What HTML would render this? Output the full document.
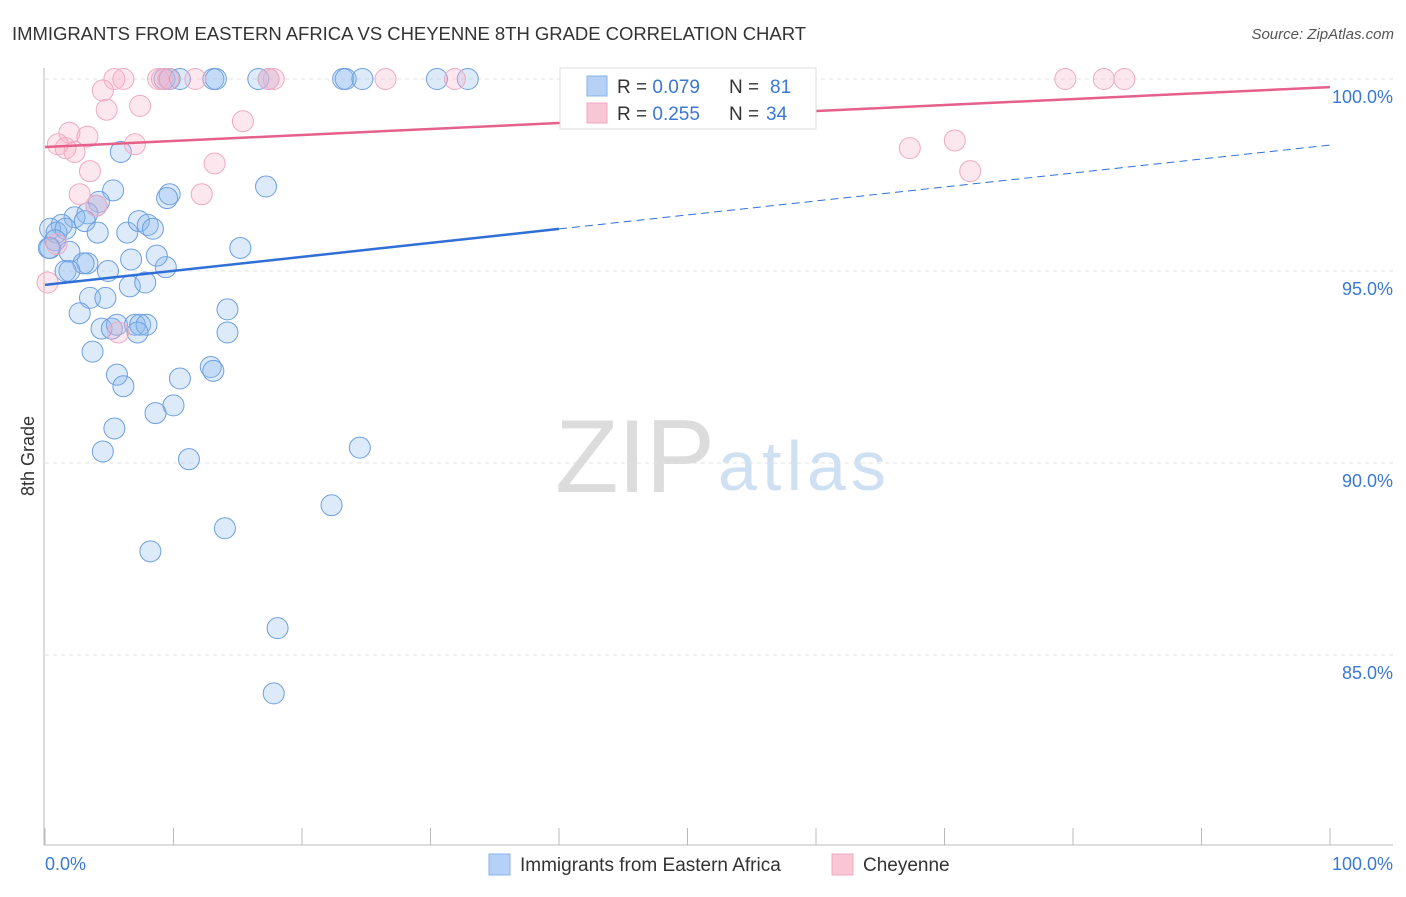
<!DOCTYPE html>
<html><head><meta charset="utf-8"><style>
body{margin:0;background:#fff;font-family:"Liberation Sans",sans-serif;}
svg text{font-family:"Liberation Sans",sans-serif;}
</style></head><body>
<svg id="c" width="1406" height="892">
<text x="12" y="40" font-size="18.5" fill="#333" textLength="794">IMMIGRANTS FROM EASTERN AFRICA VS CHEYENNE 8TH GRADE CORRELATION CHART</text>
<text x="1394" y="39" font-size="15" fill="#555" text-anchor="end" font-style="italic">Source: ZipAtlas.com</text>
<text x="715" y="492" font-size="104" fill="#dcdcdc" text-anchor="end" font-family="Liberation Serif" textLength="160">ZIP</text>
<text x="718" y="490" font-size="70" fill="#cfe0f3" textLength="168">atlas</text>
<g id="grid"></g><g id="pts"></g><g id="lines"></g>
<text transform="translate(34,456) rotate(-90)" font-size="18" fill="#333" text-anchor="middle">8th Grade</text>
<text x="45" y="870" font-size="18" fill="#3a78d4">0.0%</text>
<text x="1393" y="870" font-size="18" fill="#3a78d4" text-anchor="end">100.0%</text>
<g>
<rect x="560" y="68" width="256" height="61" fill="#fff" stroke="#ddd"/>
<rect x="587" y="76" width="20" height="20" fill="#b5d1f5" stroke="#8ab4e8"/>
<text x="617" y="93" font-size="19" fill="#333">R = <tspan fill="#3a78d4">0.079</tspan></text>
<text x="729" y="93" font-size="19" fill="#333">N = </text><text x="770" y="93" font-size="19" fill="#3a78d4">81</text>
<rect x="587" y="103" width="20" height="20" fill="#f8c6d4" stroke="#eeaac0"/>
<text x="617" y="120" font-size="19" fill="#333">R = <tspan fill="#3a78d4">0.255</tspan></text>
<text x="729" y="120" font-size="19" fill="#333">N = </text><text x="766" y="120" font-size="19" fill="#3a78d4">34</text>
</g>
<g>
<rect x="489" y="854" width="21" height="21" fill="#b5d1f5" stroke="#8ab4e8"/>
<text x="520" y="871" font-size="19" fill="#333">Immigrants from Eastern Africa</text>
<rect x="832" y="854" width="21" height="21" fill="#f8c6d4" stroke="#eeaac0"/>
<text x="863" y="871" font-size="19" fill="#333">Cheyenne</text>
</g>
</svg>
<script>
const yTicks=[100,95,90,85];
const xTickVals=[0,10,20,30,40,50,60,70,80,90,100];
const blueX=[9.3,9.7,10.5,13.1,13.3,16.6,17.4,23.2,23.4,24.7,30.5,32.9,5.9,5.3,17.2,9.7,9.5,4.2,4.0,3.3,2.3,1.3,0.4,0.9,1.6,3.1,4.1,6.4,7.3,8.0,8.4,0.8,0.4,1.9,15.2,6.7,3.3,3.0,1.6,1.9,4.9,9.4,8.7,3.5,4.7,6.6,7.8,14.2,2.7,4.4,5.2,5.6,7.0,7.4,7.9,7.2,14.2,3.7,5.6,12.9,13.1,10.5,6.1,10.0,8.6,5.4,4.5,11.2,24.5,22.3,14.0,8.2,18.1,17.8,0.3];
const blueY=[100,100,100,100,100,100,100,100,100,100,100,100,98.1,97.1,97.2,97.0,96.9,96.8,96.7,96.5,96.4,96.2,96.1,96.0,96.1,96.3,96.0,96.0,96.3,96.2,96.1,95.8,95.6,95.5,95.6,95.3,95.2,95.2,95.0,95.0,95.0,95.1,95.4,94.3,94.3,94.6,94.7,94.0,93.9,93.5,93.5,93.6,93.6,93.6,93.6,93.4,93.4,92.9,92.3,92.5,92.4,92.2,92.0,91.5,91.3,90.9,90.3,90.1,90.4,88.9,88.3,87.7,85.7,84.0,95.6];
const pinkX=[5.4,6.1,8.8,9.1,9.6,11.7,17.4,17.8,26.5,31.9,79.4,82.4,84.0,4.5,4.8,7.4,1.9,3.3,15.4,1.0,1.6,2.3,7.0,3.5,2.7,12.2,4.0,13.2,5.7,0.2,67.3,70.8,72.0,0.9];
const pinkY=[100,100,100,100,100,100,100,100,100,100,100,100,100,99.7,99.2,99.3,98.6,98.5,98.9,98.3,98.2,98.1,98.3,97.6,97.0,97.0,96.7,97.8,93.4,94.7,98.2,98.4,97.6,95.7];
const blueTrend=[94.64,98.28];
const pinkTrend=[98.23,99.79];
const NS='http://www.w3.org/2000/svg';
const sx=v=>45+v*12.85, sy=v=>79+(100-v)*38.4;
function mk(t,a,p){const e=document.createElementNS(NS,t);for(const k in a)e.setAttribute(k,a[k]);p.appendChild(e);return e;}
const g=document.getElementById('grid');
mk('line',{x1:44,y1:68,x2:44,y2:845,stroke:'#bbb'},g);
mk('line',{x1:44,y1:845,x2:1393,y2:845,stroke:'#bbb'},g);
yTicks.forEach(t=>{
 const l=mk('line',{x1:45,y1:sy(t),x2:1393,y2:sy(t),stroke:'#e2e2e2','stroke-dasharray':'4,4'},g);
 
 
 const tx=mk('text',{x:1393,y:sy(t)+24,'font-size':18,fill:'#3a78d4','text-anchor':'end'},g);
 tx.textContent=t.toFixed(1)+'%';
 
 
});
xTickVals.forEach(t=>{
 const l=mk('line',{x1:sx(t),y1:828,x2:sx(t),y2:845,stroke:'#bbb'},g);
 
 
});
const p=document.getElementById('pts');
blueX.forEach((x,i)=>{
 const c=mk('circle',{cx:sx(x),cy:sy(blueY[i]),r:10.5,fill:'rgba(140,185,240,0.3)',stroke:'#6d9fe0','stroke-width':1},p);
 
 
});
pinkX.forEach((x,i)=>{
 const c=mk('circle',{cx:sx(x),cy:sy(pinkY[i]),r:10.5,fill:'rgba(248,175,200,0.3)',stroke:'#eeaac0','stroke-width':1},p);
 
 
});
const L=document.getElementById('lines');
const by=x=>blueTrend[0]+(blueTrend[1]-blueTrend[0])*x/100;
const py=x=>pinkTrend[0]+(pinkTrend[1]-pinkTrend[0])*x/100;
let a=mk('line',{x1:sx(0),y1:sy(by(0)),x2:sx(40),y2:sy(by(40)),stroke:'#2f6fd6','stroke-width':2.5},L);


a=mk('line',{x1:sx(40),y1:sy(by(40)),x2:sx(100),y2:sy(by(100)),stroke:'#2f6fd6','stroke-width':1,'stroke-dasharray':'8,5'},L);


a=mk('line',{x1:sx(0),y1:sy(py(0)),x2:sx(100),y2:sy(py(100)),stroke:'#e5608a','stroke-width':2.5},L);


</script>
</body></html>
